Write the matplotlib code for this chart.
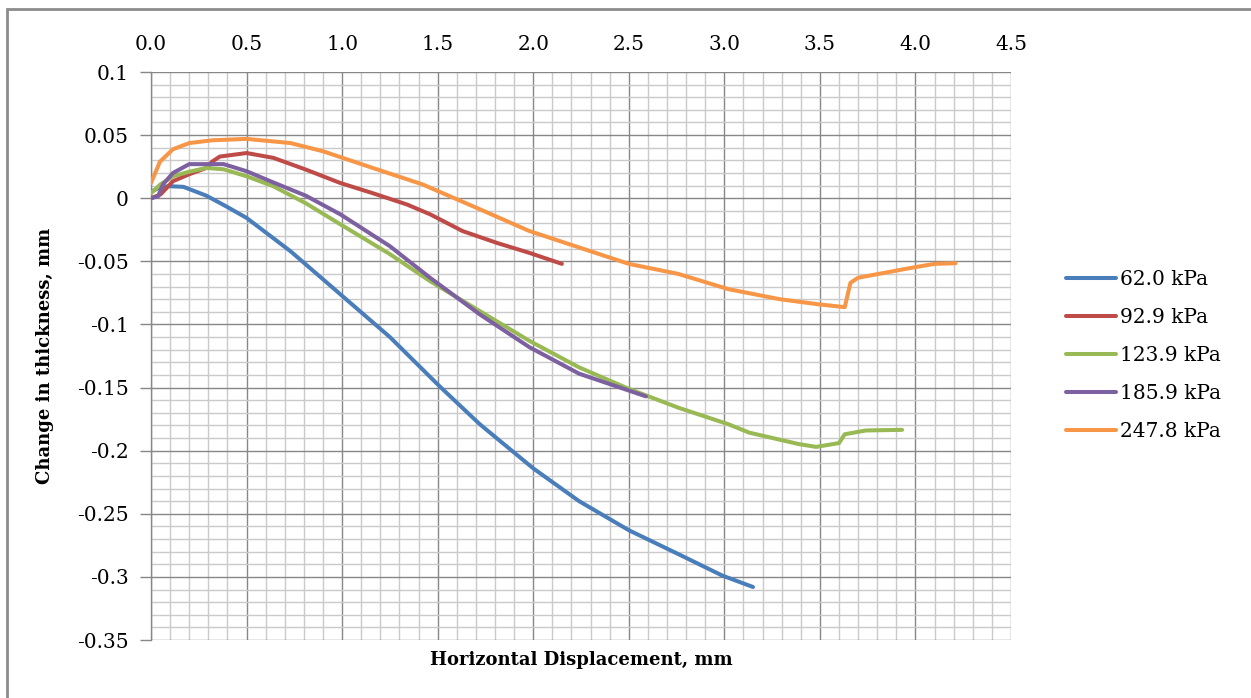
import matplotlib
matplotlib.use('Agg')
import matplotlib.pyplot as plt
from matplotlib.ticker import MultipleLocator, FormatStrFormatter, FuncFormatter
from matplotlib.patches import Rectangle

#Series data (x = horizontal displacement, y = change in thickness)
labels = ['62.0 kPa', '92.9 kPa', '123.9 kPa', '185.9 kPa', '247.8 kPa']
colors = ['#4A7EBB', '#BE4B48', '#98B954', '#7D60A0', '#F79646']

x62 = [0.0, 0.05, 0.10, 0.17, 0.29, 0.40, 0.50, 0.73, 0.99, 1.25, 1.51, 1.72, 2.00, 2.24, 2.50, 2.76, 2.99, 3.15]
y62 = [0.005, 0.009, 0.0095, 0.009, 0.002, -0.007, -0.0156, -0.042, -0.076, -0.110, -0.149, -0.179, -0.214, -0.240, -0.263, -0.282, -0.299, -0.308]

x929 = [0.0, 0.05, 0.115, 0.20, 0.29, 0.32, 0.36, 0.50, 0.64, 0.81, 0.99, 1.16, 1.34, 1.46, 1.63, 1.81, 1.98, 2.15]
y929 = [0.0, 0.003, 0.0135, 0.019, 0.024, 0.029, 0.033, 0.0358, 0.032, 0.0227, 0.0121, 0.004, -0.005, -0.0127, -0.026, -0.0354, -0.0433, -0.052]

x1239 = [0.0, 0.05, 0.115, 0.20, 0.29, 0.38, 0.50, 0.64, 0.81, 0.99, 1.25, 1.46, 1.72, 1.98, 2.24, 2.50, 2.76, 3.02, 3.13, 3.39, 3.48, 3.60, 3.63, 3.74, 3.93]
y1239 = [0.004, 0.011, 0.0174, 0.021, 0.024, 0.0229, 0.0174, 0.0095, -0.004, -0.0206, -0.0443, -0.0657, -0.0894, -0.113, -0.134, -0.151, -0.166, -0.179, -0.1857, -0.1948, -0.197, -0.194, -0.187, -0.184, -0.1835]

x1859 = [0.0, 0.037, 0.063, 0.115, 0.20, 0.38, 0.50, 0.64, 0.81, 0.99, 1.25, 1.46, 1.72, 1.98, 2.24, 2.59]
y1859 = [0.0, 0.0015, 0.011, 0.020, 0.027, 0.027, 0.0214, 0.0125, 0.002, -0.0127, -0.038, -0.063, -0.092, -0.118, -0.139, -0.157]

x2478 = [0.0, 0.047, 0.115, 0.20, 0.32, 0.50, 0.73, 0.90, 1.16, 1.42, 1.72, 1.98, 2.24, 2.50, 2.76, 3.02, 3.29, 3.49, 3.63, 3.66, 3.70, 3.98, 4.10, 4.21]
y2478 = [0.012, 0.029, 0.0388, 0.0437, 0.0459, 0.047, 0.0437, 0.0372, 0.024, 0.011, -0.0087, -0.026, -0.039, -0.052, -0.060, -0.072, -0.080, -0.084, -0.0863, -0.067, -0.063, -0.0551, -0.052, -0.0515]

xs = [x62, x929, x1239, x1859, x2478]
ys = [y62, y929, y1239, y1859, y2478]

plt.rcParams['font.family'] = 'DejaVu Serif'

fig = plt.figure(figsize=(12.51, 6.98), dpi=100)
ax = fig.add_axes([151/1251, 1 - 640/698, (1011 - 151)/1251, (640 - 72)/698])

#Outer chart border
fig.patches.append(Rectangle((7/1251, -0.1), 1.2, 1.1 - 9/698, transform=fig.transFigure,
                             fill=False, edgecolor='#8C8C8C', linewidth=2, zorder=0))

for x, y, c, lab in zip(xs, ys, colors, labels):
    ax.plot(x, y, color=c, linewidth=2.9, label=lab, solid_capstyle='round', zorder=3)

ax.set_xlim(0, 4.5)
ax.set_ylim(-0.35, 0.1)
ax.xaxis.set_major_locator(MultipleLocator(0.5))
ax.xaxis.set_minor_locator(MultipleLocator(0.1))
ax.yaxis.set_major_locator(MultipleLocator(0.05))
ax.yaxis.set_minor_locator(MultipleLocator(0.01))
ax.xaxis.set_major_formatter(FormatStrFormatter('%.1f'))
ax.yaxis.set_major_formatter(FuncFormatter(lambda v, p: '0' if abs(v) < 1e-9 else ('%g' % round(v, 2))))

ax.grid(which='major', color='#878787', linewidth=1.0, zorder=1)
ax.grid(which='minor', color='#CACACA', linewidth=1.0, zorder=1)
ax.set_axisbelow(True)

for s in ['top', 'right', 'bottom']:
    ax.spines[s].set_visible(False)
ax.spines['left'].set_color('#878787')
ax.spines['left'].set_linewidth(1.0)

ax.xaxis.tick_top()
ax.tick_params(axis='x', which='both', length=0, pad=13, labelsize=14.5, colors='black')
ax.tick_params(axis='y', which='major', length=8, width=1, color='#878787', pad=8, labelsize=14.5)
ax.tick_params(axis='y', which='minor', length=0)

fig.text(581/1251, 1 - 660/698, 'Horizontal Displacement, mm', ha='center', va='center',
         fontsize=13, fontweight='bold')
fig.text(45/1251, 1 - 356/698, 'Change in thickness, mm', ha='center', va='center',
         rotation=90, fontsize=13, fontweight='bold')

fig.legend(loc='center left', bbox_to_anchor=(1066/1251, 1 - 355.5/698), frameon=False,
           fontsize=14.5, handlelength=2.5, handletextpad=0.2, labelspacing=0.95,
           borderpad=0, borderaxespad=0)

fig.savefig('out.png', dpi=100)
